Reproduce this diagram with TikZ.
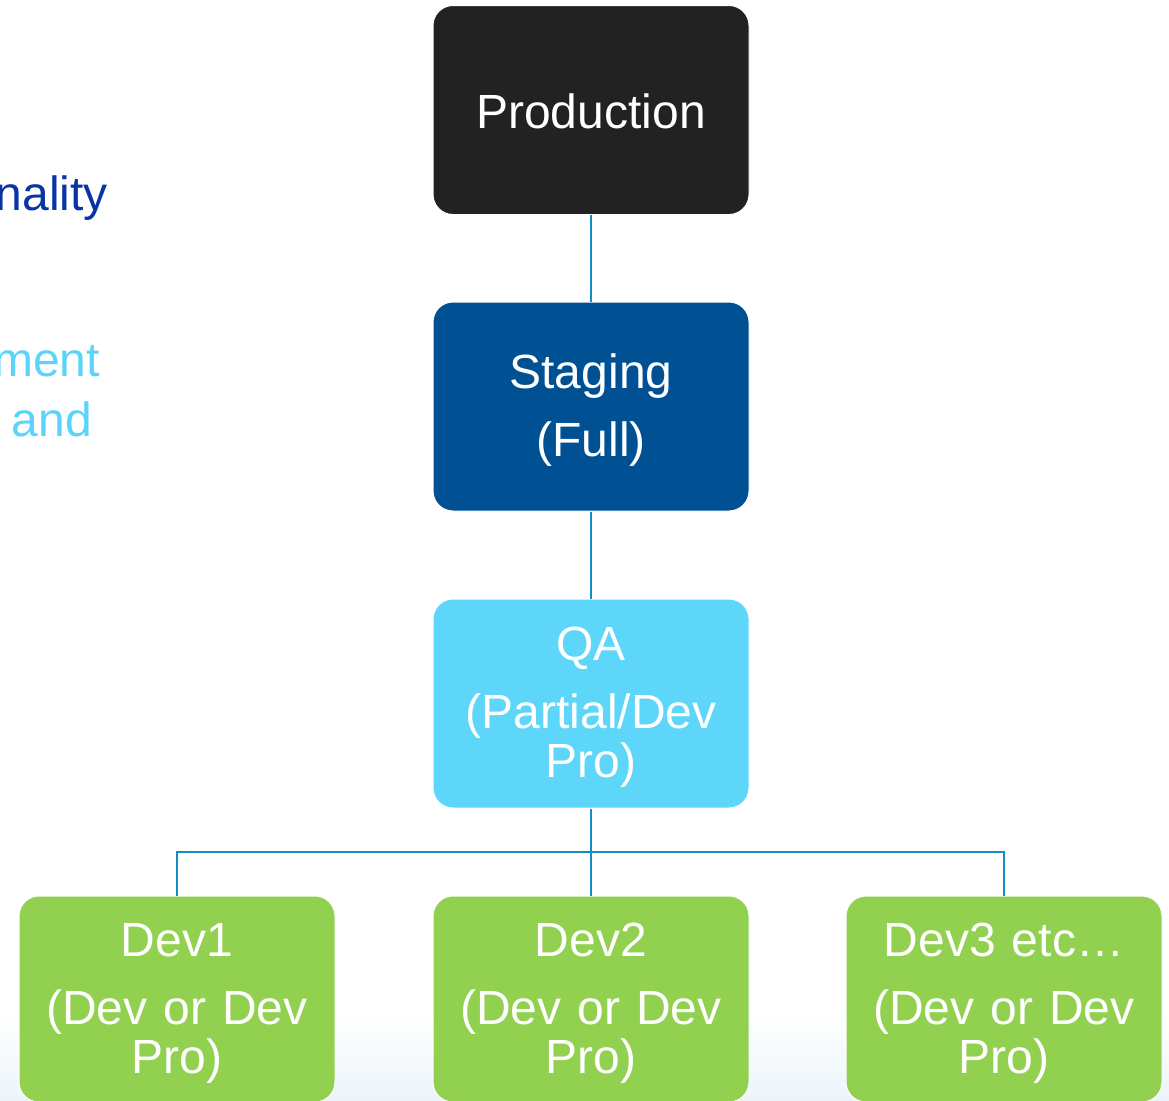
\documentclass[tikz,border=0pt]{standalone}
\usepackage{fontspec}
\setmainfont{Liberation Sans}
\begin{document}
\begin{tikzpicture}[x=1pt,y=-1pt]
\definecolor{prodcol}{RGB}{34,34,34}
\definecolor{stagecol}{RGB}{0,80,148}
\definecolor{qacol}{RGB}{93,214,250}
\definecolor{devcol}{RGB}{146,208,80}
\definecolor{linkcol}{RGB}{20,140,200}
\definecolor{darktext}{RGB}{8,52,166}
\definecolor{lighttext}{RGB}{90,212,250}
\definecolor{haze}{RGB}{236,245,251}
\tikzset{
  envbox/.style={draw=white, line width=1pt, rounded corners=20pt,
    minimum width=316pt, minimum height=209pt, inner sep=0pt},
  devbox/.style={envbox, fill=devcol, minimum height=206pt},
  boxtext/.style={text=white, align=center, text width=300pt, inner sep=0pt,
    font=\fontsize{48}{49}\selectfont},
  link/.style={draw=linkcol, line width=1.6pt},
  sidetext/.style={anchor=east, inner sep=0pt,
    font=\fontsize{48}{49}\selectfont}
}
\useasboundingbox (0,0) rectangle (1169,1100);
\fill[white] (0,0) rectangle (1169,1100);
% faint haze along the lower edge
\shade[top color=white, bottom color=haze] (0,1015) rectangle (1169,1100);

% text running in from the left side
\node[sidetext, text=darktext] (t1) at (108,198) {nality};
\node[sidetext, text=lighttext] (t2) at (100,361) {ment};
\node[sidetext, text=lighttext] (t3) at (92,419) {and};

% environment boxes
\node[envbox, fill=prodcol]  (prod)  at (591,110)   {};
\node[envbox, fill=stagecol] (stage) at (591,406.5) {};
\node[envbox, fill=qacol]    (qa)    at (591,703.5) {};
\node[devbox] (dev1) at (177,999)  {};
\node[devbox] (dev2) at (591,999)  {};
\node[devbox] (dev3) at (1004,999) {};

% box captions
\node[boxtext] (prodtxt)  at ([yshift=-1pt]prod.center)  {Production};
\node[boxtext] (stagetxt) at ([yshift=-4pt]stage.center) {Staging\\[19pt](Full)};
\node[boxtext] (qatxt)    at ([yshift=-4pt]qa.center)    {QA\\[19pt](Partial/Dev\\Pro)};
\node[boxtext] (dev1txt)  at ([yshift=-4pt]dev1.center)  {Dev1\\[19pt](Dev or Dev\\Pro)};
\node[boxtext] (dev2txt)  at ([yshift=-4pt]dev2.center)  {Dev2\\[19pt](Dev or Dev\\Pro)};
\node[boxtext] (dev3txt)  at ([yshift=-4pt]dev3.center)  {Dev3 etc\ldots\\[19pt](Dev or Dev\\Pro)};

% connectors
\coordinate (fork) at (591,852);
\draw[link] (prod.south) -- (stage.north);
\draw[link] (stage.south) -- (qa.north);
\draw[link] (qa.south) -- (dev2.north);
\draw[link] (dev1.north) |- (fork) -| (dev3.north);
\end{tikzpicture}
\end{document}
